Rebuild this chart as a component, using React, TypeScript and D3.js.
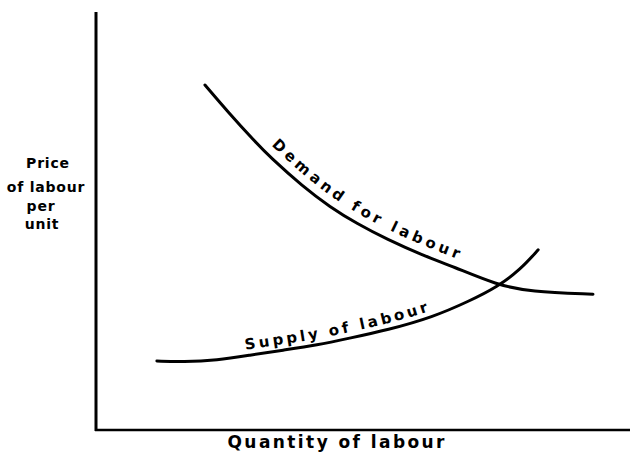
import * as d3 from 'd3';

// curve points (quantity 0-100, price 0-100)
const demandQty = [20.41, 24.72, 29.78, 32.58, 38.76, 43.82, 48.88, 54.49, 61.24, 66.85, 75.09, 81.27, 93.07];
const demandPrice = [82.54, 76.08, 68.97, 65.31, 58.21, 53.35, 49.35, 45.62, 41.75, 39.11, 34.69, 33.11, 32.49];
const supplyQty = [11.4, 16.3, 22.7, 28.8, 35.0, 41.4, 47.6, 54.5, 63.1, 70.0, 75.1, 79.4, 82.8];
const supplyPrice = [16.5, 16.3, 16.7, 17.9, 19.1, 20.3, 22.0, 23.9, 27.0, 30.9, 34.2, 38.3, 43.1];

const yLabelLines = ['Price', 'of labour', 'per', 'unit'];
const xLabel = 'Quantity of labour';
const demandLabel = 'Demand for labour';
const supplyLabel = 'Supply of labour';

const W = 630;
const H = 463;
const FONT = '"DejaVu Sans", Verdana, sans-serif';

export default function App() {
  const x = d3.scaleLinear().domain([0, 100]).range([96, 630]);
  const y = d3.scaleLinear().domain([0, 100]).range([430, 12]);

  const demand = demandQty.map((q, i) => [q, demandPrice[i]] as [number, number]);
  const supply = supplyQty.map((q, i) => [q, supplyPrice[i]] as [number, number]);

  const line = d3.line<[number, number]>()
    .x(d => x(d[0]))
    .y(d => y(d[1]))
    .curve(d3.curveBasis);

  // y title lines: [centre x, baseline]
  const yLabelPos = [[48, 168], [46, 192], [41, 211], [42, 229]];

  return (
    <div style={{ position: 'absolute', left: 0, top: 0 }}>
      <svg width={W} height={H} style={{ display: 'block', background: '#fff' }}>
        <defs>
          <path id="demandPath" d={line(demand) ?? ''} />
          <path id="supplyPath" d={line(supply) ?? ''} />
        </defs>

        {/* axes */}
        <line x1={x(0)} y1={y(100)} x2={x(0)} y2={y(0) + 1} stroke="#000" strokeWidth={3} />
        <line x1={x(0) - 1} y1={y(0)} x2={x(100)} y2={y(0)} stroke="#000" strokeWidth={2.5} />

        {/* curves */}
        <path d={line(demand) ?? ''} fill="none" stroke="#000" strokeWidth={3} strokeLinecap="round" />
        <path d={line(supply) ?? ''} fill="none" stroke="#000" strokeWidth={3} strokeLinecap="round" />

        {/* curve labels */}
        <text fontFamily={FONT} fontWeight="bold" fontSize={15} dy={-9}>
          <textPath href="#demandPath" startOffset={90} textLength={224} lengthAdjust="spacing">
            {demandLabel}
          </textPath>
        </text>
        <text fontFamily={FONT} fontWeight="bold" fontSize={15} dy={-6}>
          <textPath href="#supplyPath" startOffset={90} textLength={188} lengthAdjust="spacing">
            {supplyLabel}
          </textPath>
        </text>

        {/* axis titles */}
        <g fontFamily={FONT} fontWeight="bold" fontSize={14} fill="#000">
          {yLabelLines.map((t, i) => (
            <text key={t} x={yLabelPos[i][0]} y={yLabelPos[i][1]} textAnchor="middle" letterSpacing={0.8}>
              {t}
            </text>
          ))}
        </g>
        <text x={336} y={448} textAnchor="middle" fontFamily={FONT} fontWeight="bold" fontSize={17}
          textLength={217} lengthAdjust="spacing">
          {xLabel}
        </text>
      </svg>
    </div>
  );
}
